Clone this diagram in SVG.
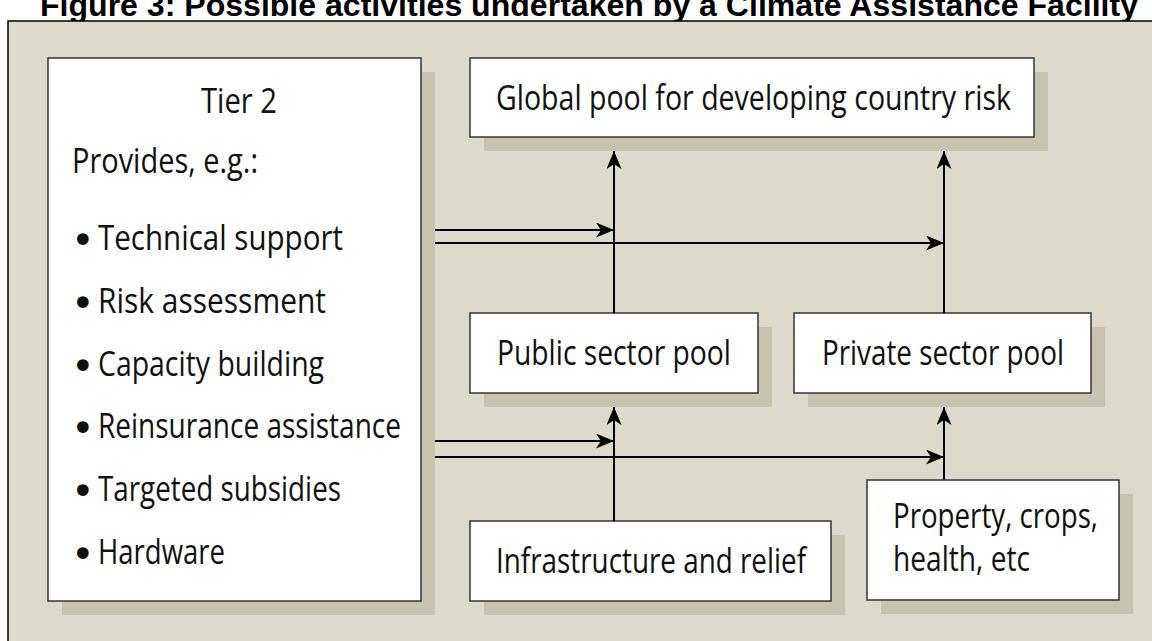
<svg xmlns="http://www.w3.org/2000/svg" width="1152" height="641" viewBox="0 0 1152 641">
<defs>
<style>
.title{font-family:"Liberation Sans",Arial,sans-serif;font-weight:bold;font-size:32px;fill:#000}
.panel{fill:#DEDACB;stroke:#000;stroke-width:1.5}
.shadow{fill:#C8C2B1}
.box{fill:#fff;stroke:#333;stroke-width:1.5}
.t{font-family:"Open Sans","Noto Sans",sans-serif;font-size:35px;fill:#111}
.bul{font-family:"DejaVu Sans",sans-serif;font-size:40px;fill:#111}
.conn line{stroke:#000;stroke-width:2}
</style>
<marker id="ah" markerUnits="userSpaceOnUse" markerWidth="20" markerHeight="16" refX="18" refY="7.5" orient="auto">
<path d="M0,0 L18,7.5 L0,15 L5,7.5 Z" fill="#000"/>
</marker>
</defs>
<rect width="1152" height="641" fill="#fff"/>
<text class="title" x="40" y="16" textLength="1098" lengthAdjust="spacingAndGlyphs">Figure 3: Possible activities undertaken by a Climate Assistance Facility</text>
<rect class="panel" x="8" y="21" width="1160" height="640"/>

<g id="tier2">
<rect class="shadow" x="62" y="72" width="373" height="543"/>
<rect class="box" x="48" y="58" width="373" height="543"/>
<text class="t" x="201" y="113" textLength="76" lengthAdjust="spacingAndGlyphs">Tier 2</text>
<text class="t" x="72" y="173" textLength="186" lengthAdjust="spacingAndGlyphs">Provides, e.g.:</text>
<text class="bul" x="71" y="254">•</text>
<text class="t" x="98" y="250" textLength="245" lengthAdjust="spacingAndGlyphs">Technical support</text>
<text class="bul" x="71" y="317">•</text>
<text class="t" x="98" y="313" textLength="228" lengthAdjust="spacingAndGlyphs">Risk assessment</text>
<text class="bul" x="71" y="380">•</text>
<text class="t" x="98" y="376" textLength="226" lengthAdjust="spacingAndGlyphs">Capacity building</text>
<text class="bul" x="71" y="442">•</text>
<text class="t" x="98" y="438" textLength="303" lengthAdjust="spacingAndGlyphs">Reinsurance assistance</text>
<text class="bul" x="71" y="505">•</text>
<text class="t" x="98" y="501" textLength="243" lengthAdjust="spacingAndGlyphs">Targeted subsidies</text>
<text class="bul" x="71" y="568">•</text>
<text class="t" x="98" y="564" textLength="127" lengthAdjust="spacingAndGlyphs">Hardware</text>
</g>

<g id="global">
<rect class="shadow" x="484" y="72" width="564" height="79"/>
<rect class="box" x="470" y="58" width="564" height="79"/>
<text class="t" x="496" y="110" textLength="515" lengthAdjust="spacingAndGlyphs">Global pool for developing country risk</text>
</g>

<g id="public">
<rect class="shadow" x="484" y="327" width="288" height="80"/>
<rect class="box" x="470" y="313" width="288" height="80"/>
<text class="t" x="497" y="365" textLength="234" lengthAdjust="spacingAndGlyphs">Public sector pool</text>
</g>

<g id="private">
<rect class="shadow" x="808" y="327" width="297" height="80"/>
<rect class="box" x="794" y="313" width="297" height="80"/>
<text class="t" x="822" y="365" textLength="242" lengthAdjust="spacingAndGlyphs">Private sector pool</text>
</g>

<g id="infra">
<rect class="shadow" x="484" y="535" width="361" height="80"/>
<rect class="box" x="470" y="521" width="361" height="80"/>
<text class="t" x="496" y="573" textLength="310" lengthAdjust="spacingAndGlyphs">Infrastructure and relief</text>
</g>

<g id="property">
<rect class="shadow" x="881" y="494" width="252" height="120"/>
<rect class="box" x="867" y="480" width="252" height="120"/>
<text class="t" x="893" y="528" textLength="205" lengthAdjust="spacingAndGlyphs">Property, crops,</text>
<text class="t" x="893" y="571" textLength="137" lengthAdjust="spacingAndGlyphs">health, etc</text>
</g>

<g id="connectors" class="conn">
<line x1="614" y1="313" x2="614" y2="151" marker-end="url(#ah)"/>
<line x1="944" y1="313" x2="944" y2="151" marker-end="url(#ah)"/>
<line x1="435" y1="230" x2="614" y2="230" marker-end="url(#ah)"/>
<line x1="435" y1="243" x2="944" y2="243" marker-end="url(#ah)"/>
<line x1="614" y1="521" x2="614" y2="407" marker-end="url(#ah)"/>
<line x1="944" y1="480" x2="944" y2="407" marker-end="url(#ah)"/>
<line x1="435" y1="441" x2="614" y2="441" marker-end="url(#ah)"/>
<line x1="435" y1="457" x2="944" y2="457" marker-end="url(#ah)"/>
</g>
</svg>
